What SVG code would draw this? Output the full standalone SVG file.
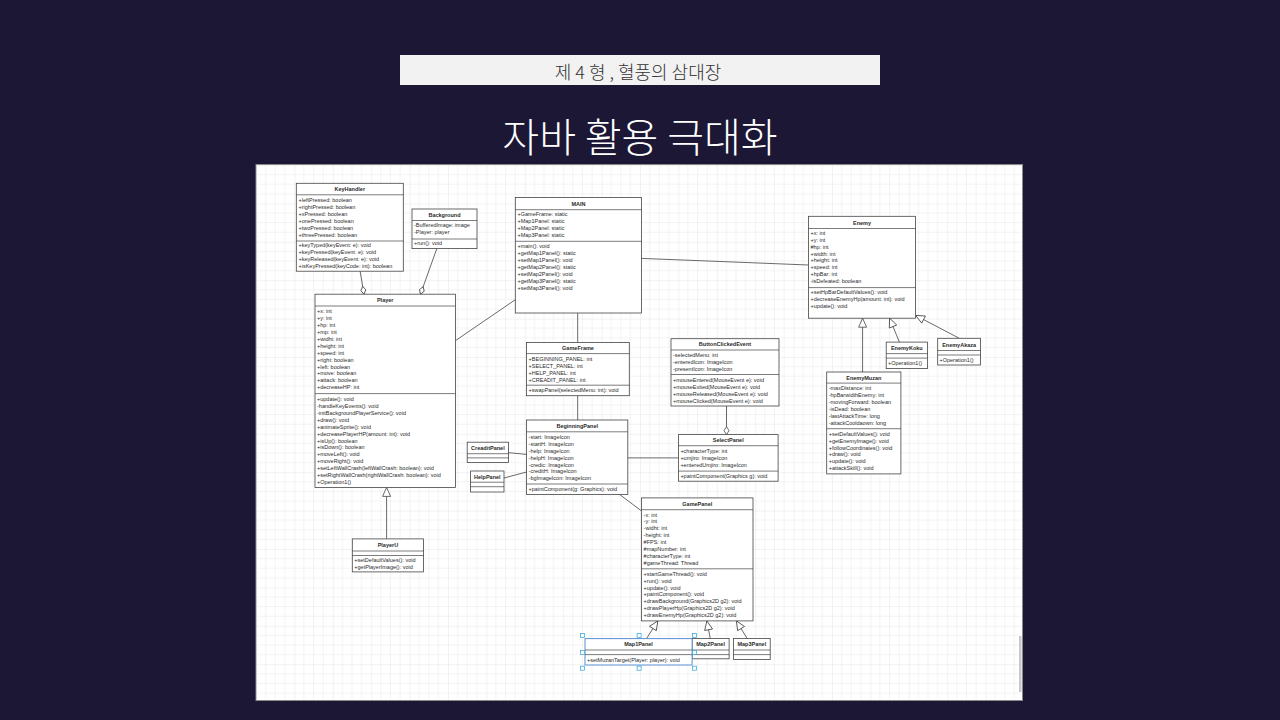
<svg xmlns="http://www.w3.org/2000/svg" width="1280" height="720" viewBox="0 0 1280 720">
<style>
.box{fill:#fff;stroke:#444;stroke-width:0.8}
.sel{fill:#fff;stroke:#5b8fd6;stroke-width:1}
.sep{stroke:#444;stroke-width:0.7}
.t{font-family:"Liberation Sans",Arial,sans-serif;font-size:5.5px;fill:#2a2a2a}
.h{font-weight:bold;text-anchor:middle}
.conn{stroke:#444;stroke-width:0.8;fill:none}
.hd{fill:#fff;stroke:#29a3e0;stroke-width:0.7}
</style>
<defs>
<pattern id="grid" x="256" y="165" width="38.4" height="38.4" patternUnits="userSpaceOnUse">
<path d="M9.6,0V38.4M19.2,0V38.4M28.8,0V38.4M0,9.6H38.4M0,19.2H38.4M0,28.8H38.4" stroke="#ececec" stroke-width="0.6" fill="none"/>
<path d="M0,0V38.4M0,0H38.4" stroke="#dcdcdc" stroke-width="0.7" fill="none"/>
</pattern>
<marker id="dia" markerUnits="userSpaceOnUse" markerWidth="9" markerHeight="6" refX="8.5" refY="2.5" orient="auto" overflow="visible">
<path d="M0.5,2.5 L4.5,0 L8.5,2.5 L4.5,5 Z" fill="#fff" stroke="#444" stroke-width="0.8"/>
</marker>
<marker id="tri" markerUnits="userSpaceOnUse" markerWidth="10" markerHeight="9" refX="9" refY="4" orient="auto" overflow="visible">
<path d="M0,0 L9,4 L0,8 Z" fill="#fff" stroke="#444" stroke-width="0.8"/>
</marker>
</defs>
<rect width="1280" height="720" fill="#1b1735"/>
<rect x="400" y="55" width="480" height="30" fill="#f2f2f2"/>
<text x="638" y="78.5" text-anchor="middle" font-family="'Noto Sans CJK KR',sans-serif" font-size="18" font-weight="300" fill="#333">제 4 형 , 혈풍의 삼대장</text>
<text x="640" y="152" text-anchor="middle" font-family="'Noto Sans CJK KR',sans-serif" font-size="40" font-weight="300" fill="#fff">자바 활용 극대화</text>
<rect x="256" y="164.5" width="766.5" height="536" fill="#fff" stroke="#8a8a8a" stroke-width="1"/>
<rect x="256.5" y="165" width="765.5" height="535" fill="url(#grid)"/>
<rect x="1019" y="636" width="2.5" height="56" fill="#c8c8c8"/>

<g id="connectors">
<path class="conn" d="M360.1,271.2 L364,294.2" marker-end="url(#dia)"/>
<path class="conn" d="M436.8,248.6 L420.5,294.2" marker-end="url(#dia)"/>
<path class="conn" d="M515.3,299.7 L455.4,340.7"/>
<path class="conn" d="M641.6,258.4 L808.5,265"/>
<path class="conn" d="M577.7,313 V342.5"/>
<path class="conn" d="M577.7,395.7 V420"/>
<path class="conn" d="M726.5,406 V434.6" marker-end="url(#dia)"/>
<path class="conn" d="M627.8,457.9 H678.4"/>
<path class="conn" d="M508.5,452.7 L526.6,454.4"/>
<path class="conn" d="M504,478 L526.6,472"/>
<path class="conn" d="M619.5,494.4 L641.6,511"/>
<path class="conn" d="M386.6,538.9 V487.4" marker-end="url(#tri)"/>
<path class="conn" d="M862.6,372 V318.2" marker-end="url(#tri)"/>
<path class="conn" d="M899.4,342.1 L889.6,318.2" marker-end="url(#tri)"/>
<path class="conn" d="M959.3,338.3 L915.6,315.4" marker-end="url(#tri)"/>
<path class="conn" d="M646.5,638.6 L657.8,620.9" marker-end="url(#tri)"/>
<path class="conn" d="M710.3,638.6 L706.9,620.9" marker-end="url(#tri)"/>
<path class="conn" d="M747.2,638.6 L736.4,620.9" marker-end="url(#tri)"/>
</g>

<g id="KeyHandler">
<rect class="box" x="296.3" y="183.3" width="107" height="87.9"/>
<line class="sep" x1="296.3" y1="194.8" x2="403.3" y2="194.8"/>
<line class="sep" x1="296.3" y1="241" x2="403.3" y2="241"/>
<text class="t h" x="349.8" y="191">KeyHandler</text>
<text class="t" x="298.5" y="202">+leftPressed: boolean</text>
<text class="t" x="298.5" y="209">+rightPressed: boolean</text>
<text class="t" x="298.5" y="216">+xPressed: boolean</text>
<text class="t" x="298.5" y="223">+onePressed: boolean</text>
<text class="t" x="298.5" y="230">+twoPressed: boolean</text>
<text class="t" x="298.5" y="237">+threePressed: boolean</text>
<text class="t" x="298.5" y="247">+keyTyped(keyEvent: e): void</text>
<text class="t" x="298.5" y="254">+keyPressed(keyEvent: e): void</text>
<text class="t" x="298.5" y="261">+keyReleased(keyEvent: e): void</text>
<text class="t" x="298.5" y="268">+isKeyPressed(keyCode: int): boolean</text>
</g>

<g id="Background">
<rect class="box" x="412" y="209" width="65" height="39.6"/>
<line class="sep" x1="412" y1="220.5" x2="477" y2="220.5"/>
<line class="sep" x1="412" y1="239" x2="477" y2="239"/>
<text class="t h" x="444.5" y="217">Background</text>
<text class="t" x="414" y="227.3">-BufferedImage: image</text>
<text class="t" x="414" y="234.3">-Player: player</text>
<text class="t" x="414" y="245.4">+run(): void</text>
</g>

<g id="MAIN">
<rect class="box" x="515.3" y="197.5" width="126.3" height="115.5"/>
<line class="sep" x1="515.3" y1="209.7" x2="641.6" y2="209.7"/>
<line class="sep" x1="515.3" y1="241.3" x2="641.6" y2="241.3"/>
<text class="t h" x="578.5" y="205.8">MAIN</text>
<text class="t" x="517.5" y="216.2">+GameFrame: static</text>
<text class="t" x="517.5" y="223.2">+Map1Panel: static</text>
<text class="t" x="517.5" y="230.1">+Map2Panel: static</text>
<text class="t" x="517.5" y="237.1">+Map3Panel: static</text>
<text class="t" x="517.5" y="248.2">+main(): void</text>
<text class="t" x="517.5" y="255.2">+getMap1Panel(): static</text>
<text class="t" x="517.5" y="262.1">+setMap1Panel(): void</text>
<text class="t" x="517.5" y="269.1">+getMap2Panel(): static</text>
<text class="t" x="517.5" y="276.1">+setMap2Panel(): void</text>
<text class="t" x="517.5" y="283.1">+getMap3Panel(): static</text>
<text class="t" x="517.5" y="290">+setMap3Panel(): void</text>
</g>

<g id="Enemy">
<rect class="box" x="808.5" y="216.3" width="107.1" height="101.9"/>
<line class="sep" x1="808.5" y1="228.5" x2="915.6" y2="228.5"/>
<line class="sep" x1="808.5" y1="287.6" x2="915.6" y2="287.6"/>
<text class="t h" x="862" y="224.6">Enemy</text>
<text class="t" x="810.5" y="234.6">+x: int</text>
<text class="t" x="810.5" y="241.6">+y: int</text>
<text class="t" x="810.5" y="248.5">#hp: int</text>
<text class="t" x="810.5" y="255.5">+width: int</text>
<text class="t" x="810.5" y="262.4">+height: int</text>
<text class="t" x="810.5" y="269.4">+speed: int</text>
<text class="t" x="810.5" y="276.4">+hpBar: int</text>
<text class="t" x="810.5" y="283.3">-isDefeated: boolean</text>
<text class="t" x="810.5" y="294.4">+setHpBarDefaultValues(): void</text>
<text class="t" x="810.5" y="301.4">+decreaseEnemyHp(amount: int): void</text>
<text class="t" x="810.5" y="308.3">+update(): void</text>
</g>

<g id="Player">
<rect class="box" x="315" y="294.2" width="140.4" height="193.2"/>
<line class="sep" x1="315" y1="306" x2="455.4" y2="306"/>
<line class="sep" x1="315" y1="393.6" x2="455.4" y2="393.6"/>
<text class="t h" x="385.2" y="302">Player</text>
<text class="t" x="317" y="312.9">+x: int</text>
<text class="t" x="317" y="319.85">+y: int</text>
<text class="t" x="317" y="326.8">+hp: int</text>
<text class="t" x="317" y="333.75">+mp: int</text>
<text class="t" x="317" y="340.7">+widht: int</text>
<text class="t" x="317" y="347.65">+height: int</text>
<text class="t" x="317" y="354.6">+speed: int</text>
<text class="t" x="317" y="361.55">+right: boolean</text>
<text class="t" x="317" y="368.5">+left: boolean</text>
<text class="t" x="317" y="375.45">+move: boolean</text>
<text class="t" x="317" y="382.4">+attack: boolean</text>
<text class="t" x="317" y="389.35">+decreaseHP: int</text>
<text class="t" x="317" y="400.8">+update(): void</text>
<text class="t" x="317" y="407.75">-handleKeyEvents(): void</text>
<text class="t" x="317" y="414.7">-initBackgroundPlayerService(): void</text>
<text class="t" x="317" y="421.65">+draw(): void</text>
<text class="t" x="317" y="428.6">+animateSprite(): void</text>
<text class="t" x="317" y="435.55">+decreasePlayerHP(amount: int): void</text>
<text class="t" x="317" y="442.5">+isUp(): boolean</text>
<text class="t" x="317" y="449.45">+isDown(): boolean</text>
<text class="t" x="317" y="456.4">+moveLeft(): void</text>
<text class="t" x="317" y="463.35">+moveRight(): void</text>
<text class="t" x="317" y="470.3">+setLeftWallCrash(leftWallCrash: boolean): void</text>
<text class="t" x="317" y="477.25">+setRightWallCrash(rightWallCrash: boolean): void</text>
<text class="t" x="317" y="484.2">+Operation1()</text>
</g>

<g id="PlayerU">
<rect class="box" x="352.3" y="538.9" width="71.2" height="33"/>
<line class="sep" x1="352.3" y1="551" x2="423.5" y2="551"/>
<line class="sep" x1="352.3" y1="555.5" x2="423.5" y2="555.5"/>
<text class="t h" x="387.9" y="546.8">PlayerU</text>
<text class="t" x="354.3" y="561.7">+setDefaultValues(): void</text>
<text class="t" x="354.3" y="568.7">+getPlayerImage(): void</text>
</g>

<g id="GameFrame">
<rect class="box" x="526.6" y="342.5" width="102.7" height="53.2"/>
<line class="sep" x1="526.6" y1="353.6" x2="629.3" y2="353.6"/>
<line class="sep" x1="526.6" y1="385.2" x2="629.3" y2="385.2"/>
<text class="t h" x="578" y="349.7">GameFrame</text>
<text class="t" x="528.6" y="360.8">+BEGINNING_PANEL: int</text>
<text class="t" x="528.6" y="367.8">+SELECT_PANEL: int</text>
<text class="t" x="528.6" y="374.7">+HELP_PANEL: int</text>
<text class="t" x="528.6" y="381.7">+CREADIT_PANEL: int</text>
<text class="t" x="528.6" y="392">+swapPanel(selectedMenu: int): void</text>
</g>

<g id="ButtonClickedEvent">
<rect class="box" x="671" y="338.7" width="108" height="67.3"/>
<line class="sep" x1="671" y1="350" x2="779" y2="350"/>
<line class="sep" x1="671" y1="374.5" x2="779" y2="374.5"/>
<text class="t h" x="725" y="346.2">ButtonClickedEvent</text>
<text class="t" x="673" y="357">-selectedMenu: int</text>
<text class="t" x="673" y="364">-enteredIcon: ImageIcon</text>
<text class="t" x="673" y="370.9">-presentIcon: ImageIcon</text>
<text class="t" x="673" y="381.7">+mouseEntered(MouseEvent e): void</text>
<text class="t" x="673" y="388.7">+mouseExited(MouseEvent e): void</text>
<text class="t" x="673" y="395.6">+mouseReleased(MouseEvent e): void</text>
<text class="t" x="673" y="402.5">+mouseClicked(MouseEvent e): void</text>
</g>

<g id="BeginningPanel">
<rect class="box" x="526.6" y="420" width="101.2" height="74.4"/>
<line class="sep" x1="526.6" y1="431.8" x2="627.8" y2="431.8"/>
<line class="sep" x1="526.6" y1="484" x2="627.8" y2="484"/>
<text class="t h" x="577.2" y="428">BeginningPanel</text>
<text class="t" x="528.6" y="438.7">-start: ImageIcon</text>
<text class="t" x="528.6" y="445.65">-startH: ImageIcon</text>
<text class="t" x="528.6" y="452.6">-help: ImageIcon</text>
<text class="t" x="528.6" y="459.55">-helpH: ImageIcon</text>
<text class="t" x="528.6" y="466.5">-credic: ImageIcon</text>
<text class="t" x="528.6" y="473.45">-creditH: ImageIcon</text>
<text class="t" x="528.6" y="480.4">-bgImageIcon: ImageIcon</text>
<text class="t" x="528.6" y="490.8">+paintComponent(g: Graphics): void</text>
</g>

<g id="CreaditPanel">
<rect class="box" x="467.2" y="442.2" width="41.3" height="20.2"/>
<line class="sep" x1="467.2" y1="453.7" x2="508.5" y2="453.7"/>
<line class="sep" x1="467.2" y1="457.9" x2="508.5" y2="457.9"/>
<text class="t h" x="487.85" y="449.8">CreaditPanel</text>
</g>

<g id="HelpPanel">
<rect class="box" x="470.6" y="471" width="33.4" height="21"/>
<line class="sep" x1="470.6" y1="482.2" x2="504" y2="482.2"/>
<line class="sep" x1="470.6" y1="486.7" x2="504" y2="486.7"/>
<text class="t h" x="487.3" y="479.3">HelpPanel</text>
</g>

<g id="SelectPanel">
<rect class="box" x="678.4" y="434.6" width="99.7" height="46.6"/>
<line class="sep" x1="678.4" y1="445.7" x2="778.1" y2="445.7"/>
<line class="sep" x1="678.4" y1="471.1" x2="778.1" y2="471.1"/>
<text class="t h" x="728.25" y="442.2">SelectPanel</text>
<text class="t" x="680.4" y="453.3">+characterType: int</text>
<text class="t" x="680.4" y="460.2">+umjiro: ImageIcon</text>
<text class="t" x="680.4" y="467.2">+enteredUmjiro: ImageIcon</text>
<text class="t" x="680.4" y="478">+paintComponent(Graphics g): void</text>
</g>

<g id="EnemyKoku">
<rect class="box" x="886.2" y="342.1" width="41.2" height="26.5"/>
<line class="sep" x1="886.2" y1="353.6" x2="927.4" y2="353.6"/>
<line class="sep" x1="886.2" y1="358.1" x2="927.4" y2="358.1"/>
<text class="t h" x="906.8" y="350">EnemyKoku</text>
<text class="t" x="888" y="365.3">+Operation1()</text>
</g>

<g id="EnemyAkaza">
<rect class="box" x="937.7" y="338.3" width="42.8" height="26.7"/>
<line class="sep" x1="937.7" y1="350.5" x2="980.5" y2="350.5"/>
<line class="sep" x1="937.7" y1="355" x2="980.5" y2="355"/>
<text class="t h" x="959.1" y="346.6">EnemyAkaza</text>
<text class="t" x="939.5" y="361.5">+Operation1()</text>
</g>

<g id="EnemyMuzan">
<rect class="box" x="826.7" y="372" width="74.2" height="101.9"/>
<line class="sep" x1="826.7" y1="383.1" x2="900.9" y2="383.1"/>
<line class="sep" x1="826.7" y1="428.7" x2="900.9" y2="428.7"/>
<text class="t h" x="863.8" y="380">EnemyMuzan</text>
<text class="t" x="828.7" y="390.4">-maxDistance: int</text>
<text class="t" x="828.7" y="397.35">-hpBarwidthEnemy: int</text>
<text class="t" x="828.7" y="404.3">-movingForward: boolean</text>
<text class="t" x="828.7" y="411.25">-isDead: boolean</text>
<text class="t" x="828.7" y="418.2">-lastAttackTime: long</text>
<text class="t" x="828.7" y="425.15">-attackCooldaown: long</text>
<text class="t" x="828.7" y="435.6">+setDefaultValues(): void</text>
<text class="t" x="828.7" y="442.55">+getEnemyImage(): void</text>
<text class="t" x="828.7" y="449.5">+followCoordinates(): void</text>
<text class="t" x="828.7" y="456.45">+draw(): void</text>
<text class="t" x="828.7" y="463.4">+update(): void</text>
<text class="t" x="828.7" y="470.35">+attackSkill(): void</text>
</g>

<g id="GamePanel">
<rect class="box" x="641.6" y="497.9" width="111.4" height="123"/>
<line class="sep" x1="641.6" y1="509.7" x2="753" y2="509.7"/>
<line class="sep" x1="641.6" y1="568.8" x2="753" y2="568.8"/>
<text class="t h" x="697.3" y="505.8">GamePanel</text>
<text class="t" x="643.6" y="516.5">-x: int</text>
<text class="t" x="643.6" y="523.45">-y: int</text>
<text class="t" x="643.6" y="530.4">-widht: int</text>
<text class="t" x="643.6" y="537.35">-height: int</text>
<text class="t" x="643.6" y="544.3">#FPS: int</text>
<text class="t" x="643.6" y="551.25">#mapNumber: int</text>
<text class="t" x="643.6" y="558.2">#characterType: int</text>
<text class="t" x="643.6" y="565.15">#gameThread: Thread</text>
<text class="t" x="643.6" y="575.6">+startGameThread(): void</text>
<text class="t" x="643.6" y="582.55">+run(): void</text>
<text class="t" x="643.6" y="589.5">+update(): void</text>
<text class="t" x="643.6" y="596.45">+paintComponent(): void</text>
<text class="t" x="643.6" y="603.4">+drawBackground(Graphics2D g2): void</text>
<text class="t" x="643.6" y="610.35">+drawPlayerHp(Graphics2D g2): void</text>
<text class="t" x="643.6" y="617.3">+drawEnemyHp(Graphics2D g2): void</text>
</g>

<g id="Map2Panel">
<rect class="box" x="692.1" y="638.6" width="37" height="20.2"/>
<line class="sep" x1="692.1" y1="650" x2="729.1" y2="650"/>
<line class="sep" x1="692.1" y1="654.6" x2="729.1" y2="654.6"/>
<text class="t h" x="710.6" y="646.2">Map2Panel</text>
</g>

<g id="Map3Panel">
<rect class="box" x="733.5" y="638.6" width="36.7" height="20.9"/>
<line class="sep" x1="733.5" y1="650" x2="770.2" y2="650"/>
<line class="sep" x1="733.5" y1="654.6" x2="770.2" y2="654.6"/>
<text class="t h" x="751.8" y="646.2">Map3Panel</text>
</g>

<g id="Map1Panel">
<rect class="sel" x="585" y="638.6" width="107.1" height="26.4"/>
<line class="sep" x1="585" y1="650" x2="692.1" y2="650"/>
<line class="sep" x1="585" y1="654.6" x2="692.1" y2="654.6"/>
<text class="t h" x="638.5" y="646.2">Map1Panel</text>
<text class="t" x="587" y="661.8">+setMuzanTarget(Player: player): void</text>
<rect class="hd" x="580.6" y="633.5" width="4" height="4"/>
<rect class="hd" x="637.1" y="633.5" width="4" height="4"/>
<rect class="hd" x="692.6" y="633.5" width="4" height="4"/>
<rect class="hd" x="580.6" y="650.5" width="4" height="4"/>
<rect class="hd" x="692.6" y="650.5" width="4" height="4"/>
<rect class="hd" x="580.6" y="666.2" width="4" height="4"/>
<rect class="hd" x="637.1" y="666.2" width="4" height="4"/>
<rect class="hd" x="692.6" y="666.2" width="4" height="4"/>
</g>
</svg>
